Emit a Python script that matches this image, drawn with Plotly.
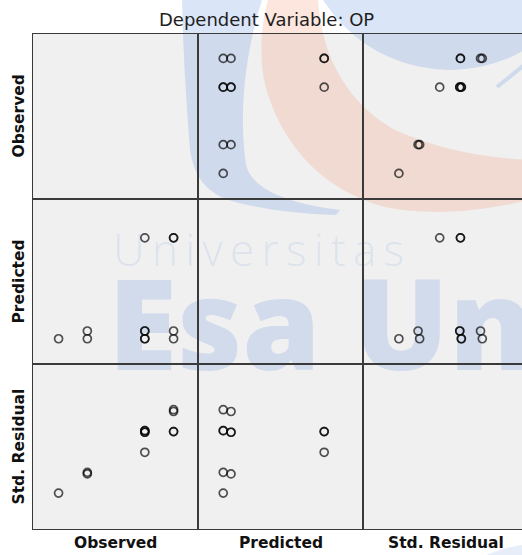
import plotly.graph_objects as go

# ---------------- data ----------------
observed = [1, 2, 2, 4, 4, 4, 4, 4, 5, 5, 5, 5]
predicted = [2.96, 2.96, 3.04, 2.96, 2.96, 3.04, 3.04, 4.00, 2.96, 3.04, 4.00, 4.00]
std_residual = [-1.83, -0.90, -0.97, 0.97, 0.97, 0.90, 0.90, 0.00, 1.91, 1.83, 0.93, 0.93]
var_names = ["Observed", "Predicted", "Std. Residual"]
title_text = "Dependent Variable: OP"
watermark_small = "U\u2009n\u2009i\u2009v\u2009e\u2009r\u2009s\u2009i\u2009t\u2009a\u2009s"
watermark_big = "Esa Unggul"

# ---------------- layout geometry (pixels) ----------------
W, H = 522, 555
col_px = [(33, 198), (198, 363), (363, 528)]
row_px = [(34, 199), (199, 364), (364, 529)]
var_ranges = [[0.11, 5.85], [2.70, 4.40], [-3.44, 3.96]]

variables = [observed, predicted, std_residual]

fig = go.Figure()

layout = dict(
    width=W, height=H,
    margin=dict(l=0, r=0, t=0, b=0),
    paper_bgcolor="white",
    plot_bgcolor="rgba(0,0,0,0)",
    showlegend=False,
    xaxis=dict(domain=[0, 1], range=[0, W], visible=False, fixedrange=True),
    yaxis=dict(domain=[0, 1], range=[H, 0], visible=False, fixedrange=True),
)

shapes = []
for r in range(3):
    for c in range(3):
        x0, x1 = col_px[c]
        y0, y1 = row_px[r]
        shapes.append(dict(type="rect", xref="x", yref="y", x0=x0, x1=x1, y0=y0, y1=y1,
                           fillcolor="#F0F0F0", line=dict(width=0), layer="below"))

blue = "rgba(120,160,225,0.27)"
orange = "rgba(240,140,100,0.22)"
shapes.append(dict(type="circle", xref="x", yref="y", x0=300, x1=600, y0=-230, y1=70,
                   fillcolor=blue, line=dict(width=0), layer="below"))
shapes.append(dict(type="path", xref="x", yref="y", layer="below", fillcolor=blue, line=dict(width=0),
                   path="M 182,0 L 262,0 C 246,50 238,110 246,165 C 252,190 290,204 340,210 "
                        "L 336,215 C 290,214 245,206 226,199 C 202,190 193,170 190,150 "
                        "C 186,100 183,50 182,0 Z"))
shapes.append(dict(type="path", xref="x", yref="y", layer="below", fillcolor=orange, line=dict(width=0),
                   path="M 268,0 L 318,0 C 322,60 350,105 395,130 C 440,150 480,157 528,160 "
                        "L 528,200 C 480,212 430,216 385,207 C 320,190 278,140 264,80 "
                        "C 259,50 262,20 268,0 Z"))
shapes.append(dict(type="line", xref="x", yref="y", layer="below", x0=497, y0=87, x1=528, y1=62,
                   line=dict(color=blue, width=4)))
shapes.append(dict(type="circle", xref="x", yref="y", layer="below", x0=455, x1=640, y0=543, y1=640,
                   fillcolor="rgba(120,160,225,0.18)", line=dict(width=0)))
layout["shapes"] = shapes

fig.add_trace(go.Scatter(x=[113], y=[255], mode="text", text=[watermark_small],
                         textposition="middle right", hoverinfo="skip",
                         textfont=dict(family="Open Sans", size=44, weight=300,
                                       color="rgba(120,160,225,0.18)"),
                         xaxis="x", yaxis="y"))
fig.add_trace(go.Scatter(x=[108], y=[338], mode="text", text=[watermark_big],
                         textposition="middle right", hoverinfo="skip",
                         textfont=dict(family="Open Sans", size=126, weight=800,
                                       color="rgba(120,160,225,0.26)"),
                         xaxis="x", yaxis="y"))

line_col = "#3a3a3a"
for r in range(3):
    for c in range(3):
        k = 2 + r * 3 + c
        cx0, cx1 = col_px[c]
        ry0, ry1 = row_px[r]
        xdom = [cx0 / W, min(cx1, W) / W]
        ydom = [1 - ry1 / H, 1 - ry0 / H]
        xr = list(var_ranges[c])
        if cx1 > W:
            span = xr[1] - xr[0]
            xr[1] = xr[0] + span * (W - cx0) / (cx1 - cx0)
        yr = list(var_ranges[r])
        layout[f"xaxis{k}"] = dict(domain=xdom, range=xr, anchor=f"y{k}", showticklabels=False,
                                   ticks="", showgrid=False, zeroline=False, showline=True,
                                   mirror=True, linecolor=line_col, linewidth=1.3, fixedrange=True)
        layout[f"yaxis{k}"] = dict(domain=ydom, range=yr, anchor=f"x{k}", showticklabels=False,
                                   ticks="", showgrid=False, zeroline=False, showline=True,
                                   mirror=(cx1 <= W), linecolor=line_col, linewidth=1.3,
                                   fixedrange=True)
        if r == c:
            xs, ys = [], []
        else:
            xs, ys = variables[c], variables[r]
        fig.add_trace(go.Scatter(x=xs, y=ys, mode="markers", xaxis=f"x{k}", yaxis=f"y{k}",
                                 marker=dict(symbol="circle-open", size=8,
                                             color="rgba(0,0,0,0.68)",
                                             line=dict(width=1.7)),
                                 hoverinfo="skip"))

annotations = []
annotations.append(dict(x=266.5, y=19.5, xref="x", yref="y", text=title_text, showarrow=False,
                        xanchor="center", yanchor="middle",
                        font=dict(family="DejaVu Sans", size=18, color="#1e1e1e")))
for i, name in enumerate(var_names):
    cx = (col_px[i][0] + col_px[i][1]) / 2
    annotations.append(dict(x=cx, y=543, xref="x", yref="y", text=f"<b>{name}</b>",
                            showarrow=False, xanchor="center", yanchor="middle",
                            font=dict(family="DejaVu Sans", size=15.5, color="#111")))
    cy = (row_px[i][0] + row_px[i][1]) / 2
    annotations.append(dict(x=18, y=cy, xref="x", yref="y", text=f"<b>{name}</b>",
                            showarrow=False, xanchor="center", yanchor="middle", textangle=-90,
                            font=dict(family="DejaVu Sans", size=15.5, color="#111")))
layout["annotations"] = annotations

fig.update_layout(**layout)
fig.write_html("out.html", config={"displayModeBar": False},
               post_script="document.body.style.margin='0px';document.body.style.overflow='hidden';")
